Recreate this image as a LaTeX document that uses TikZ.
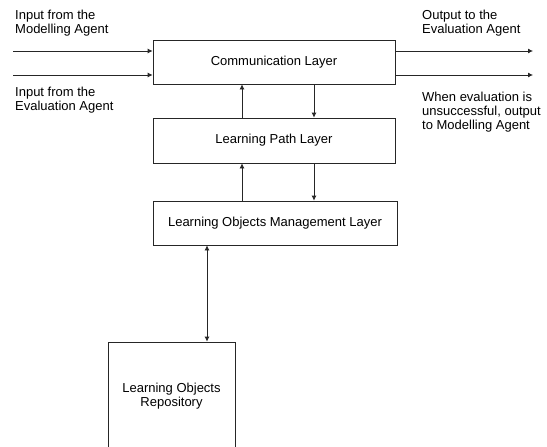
\documentclass[tikz,border=0pt]{standalone}
\usepackage{fontspec}
\setmainfont{Liberation Sans}
\usetikzlibrary{arrows.meta}

\begin{document}
\begin{tikzpicture}[x=1pt,y=-1pt,
        font=\fontsize{13}{14}\selectfont,
        layer/.style={draw=black!85,line width=0.8pt,minimum width=242pt,minimum height=44pt,inner sep=0pt},
        note/.style={anchor=north west,align=left,inner sep=0pt},
        flow/.style={line width=0.8pt,draw=black!85,-{Latex[length=5pt,width=5pt]}},
        both/.style={flow,{Latex[length=5pt,width=5pt]}-{Latex[length=5pt,width=5pt]}}]
        \useasboundingbox (0,0) rectangle (547,447);
        \clip (0,0) rectangle (547,447);
        \fill[white] (0,0) rectangle (547,447);
        \node[layer] (comm) at (274,62) {Communication Layer};
        \node[layer,minimum height=45pt] (path) at (274,140.5) {Learning Path Layer};
        \node[layer,minimum width=244pt] (lom) at (275,223) {Learning Objects Management Layer};
        \node[layer,minimum width=127pt,minimum height=108pt,align=center] (repo) at (171.5,396) {Learning Objects\\Repository};
        % layer to layer
        \coordinate (upcol) at (242,0);
        \coordinate (downcol) at (314,0);
        \draw[flow] (path.north -| upcol) -- (comm.south -| upcol);
        \draw[flow] (comm.south -| downcol) -- (path.north -| downcol);
        \draw[flow] (lom.north -| upcol) -- (path.south -| upcol);
        \draw[flow] (path.south -| downcol) -- (lom.north -| downcol);
        \coordinate (repocol) at (207,0);
        \draw[both] (lom.south -| repocol) -- (repo.north -| repocol);
        % inputs and outputs
        \coordinate (inM) at (13,51);
        \coordinate (inE) at (13,75);
        \coordinate (outE) at (533,51);
        \coordinate (outM) at (533,75);
        \draw[flow] (inM) -- (inM -| comm.west);
        \draw[flow] (inE) -- (inE -| comm.west);
        \draw[flow] (outE -| comm.east) -- (outE);
        \draw[flow] (outM -| comm.east) -- (outM);
        \node[note] (lblinM) at (15,10) {Input from the\\Modelling Agent};
        \node[note] (lblinE) at (15,87) {Input from the\\Evaluation Agent};
        \node[note] (lbloutE) at (422,10) {Output to the\\Evaluation Agent};
        \node[note] (lbloutM) at (422,92) {When evaluation is\\unsuccessful, output\\to Modelling Agent};
\end{tikzpicture}
\end{document}
